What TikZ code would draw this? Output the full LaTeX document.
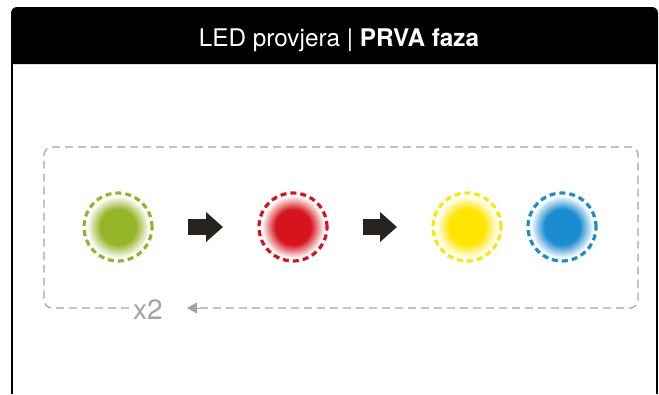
\documentclass[tikz,border=0pt]{standalone}
\usepackage{fontspec}
\setmainfont{TeX Gyre Heros}
\usetikzlibrary{arrows.meta}

\definecolor{ledgreen}{HTML}{95B427}
\definecolor{ledred}{HTML}{D7141E}
\definecolor{ledyellow}{HTML}{FFE500}
\definecolor{ledblue}{HTML}{1A8CCF}
\definecolor{loopgray}{HTML}{A3A3A3}
\definecolor{arrowblack}{HTML}{27231F}

\colorlet{ledcol}{ledgreen}
\pgfdeclareradialshading[ledcol]{ledglow}{\pgfpointorigin}{color(0bp)=(ledcol); color(13bp)=(ledcol); color(23bp)=(white); color(25bp)=(white); color(50bp)=(white)}

\begin{document}
\begin{tikzpicture}[x=1pt,y=-1pt]

\tikzset{led/.style={circle,minimum size=68pt,inner sep=0pt,outer sep=0pt,line width=3.2pt,dash pattern=on 6pt off 4pt},
         ledarrow/.style={arrowblack,line width=16pt,shorten <=36pt,shorten >=36pt,-{Triangle[length=17pt,width=29pt]}},
         loopline/.style={loopgray,line width=1.2pt,dash pattern=on 8pt off 5pt,rounded corners=8pt}}

\useasboundingbox (0,0) rectangle (659,394);

% header and frame
\fill (11,64) [rounded corners=6pt] -- (11,7) -- (658,7) [sharp corners] -- (658,64) -- cycle;
\draw[line width=2pt] (12,64) -- (12,394);
\draw[line width=2pt] (657,64) -- (657,394);
\node[white,anchor=base] (title) at (339,46) {\fontsize{24.3}{28}\selectfont LED provjera | \textbf{PRVA faza}};

% leds
\foreach \name/\x/\col in {g/118/ledgreen,r/293/ledred,y/467/ledyellow,b/562/ledblue}
{
    \colorlet{ledcol}{\col}
    \shade[shading=ledglow] (\x,227) circle (34pt);
    \node[led,draw=\col] (\name) at (\x,227) {};
}

\draw[ledarrow] (g) -- (r);
\draw[ledarrow] (r) -- (y);

% loop
\node[loopgray,anchor=base,inner sep=4pt] (x2) at (148,319) {\fontsize{28}{32}\selectfont x2};
\coordinate (sw) at (44,308);
\coordinate (nw) at (44,147);
\coordinate (ne) at (638,147);
\coordinate (se) at (638,308);
\coordinate (tip) at (187,308);

\draw[loopline] (x2.west |- sw) -- (sw) -- (nw) -- (ne) -- (se) -- (200,308);
\draw[loopgray,-{Triangle[length=10pt,width=11pt]}] (200,308) -- (tip);

\end{tikzpicture}
\end{document}
